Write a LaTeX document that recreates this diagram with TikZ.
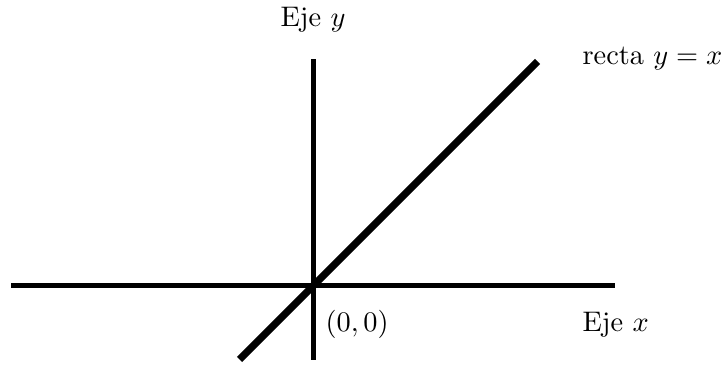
\documentclass[tikz,border=0pt]{standalone}
\begin{document}
\begin{tikzpicture}[x=0.353pt,y=-0.353pt,
  axis/.style={line width=1.76pt},
  recta/.style={line width=2.6pt},
  lbl/.style={inner sep=0pt,anchor=base west}]
\useasboundingbox (0,0) rectangle (726,366);
\coordinate (O) at (313.5,285.5);
\coordinate (xl) at (11,285.5);
\coordinate (xr) at (615,285.5);
\coordinate (yt) at (313.5,59);
\coordinate (yb) at (313.5,360);
\coordinate (dl) at (239.5,359.5);
\coordinate (du) at (537.5,61.5);
\draw[axis] (xl) -- (xr);
\draw[axis] (yb) -- (yt);
\draw[recta] (dl) -- (du);
\node[lbl] (ejey) at (280,27) {Eje $y$};
\node[lbl] (rlbl) at (582,65) {recta $y=x$};
\node[lbl] (ejex) at (582,332) {Eje $x$};
\node[lbl] (orig) at (325,332) {$(0,0)$};
\end{tikzpicture}
\end{document}
